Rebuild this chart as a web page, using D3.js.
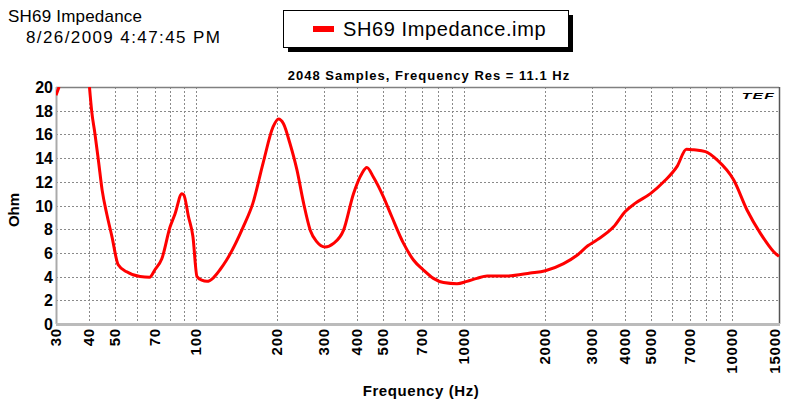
<!DOCTYPE html>
<html>
<head>
<meta charset="utf-8">
<script src="https://cdn.jsdelivr.net/npm/d3@7"></script>
<style>
  body { margin: 0; background: #fff; }
  svg { font-family: "Liberation Sans", Arial, sans-serif; display: block; }
</style>
</head>
<body>
<div id="chart"></div>
<script>
// impedance sweep (Hz, ohm); null = off the top of the chart
const freqs = [30, 30.8, null, 40, 40.8, 41.9, 43.2, 44.6, 46.5, 48.5, 51.2, 55.1, 61.8, 67, 70.3, 74.5, 80, 83.5, 88.5, 90, 93.7, 97.3, 100.8, 105, 109.9, 116, 123,
  130, 150, 163, 178, 194, 203, 212, 224, 238, 252, 267, 282, 303, 326, 355, 387, 416, 434, 459, 500, 538,
  595, 648, 706, 769, 839, 942, 1026, 1118, 1220, 1449, 1769, 2013, 2355, 2644, 2900,
  3139, 3620, 4002, 4366, 4967, 5569, 6248, 6770, 7211, 7974, 8811, 10165, 11406, 12783, 14329, 15000];
const ohms = [19.3, 20, null, 20, 17.9, 16.1, 13.8, 11.3, 9.2, 7.4, 5.0, 4.4, 4.0, 3.95, 4.6, 5.5, 8.2, 9.3, 11.0, 10.9, 9.05, 7.4, 4.0, 3.7, 3.6, 3.9, 4.6,
  5.4, 8.2, 10.2, 13.6, 16.65, 17.3, 16.9, 15.25, 13.0, 10.2, 7.9, 6.95, 6.5, 6.8, 7.9, 11.0, 12.7, 13.2, 12.4, 10.75, 9.05,
  6.8, 5.4, 4.55, 3.85, 3.5, 3.4, 3.6, 3.85, 4.05, 4.05, 4.3, 4.5, 5.1, 5.8, 6.6,
  7.1, 8.2, 9.5, 10.2, 11.0, 12.0, 13.3, 14.75, 14.7, 14.55, 13.85, 12.15, 9.6, 7.65, 6.1, 5.7];

const xTicks = [30, 40, 50, 70, 100, 200, 300, 400, 500, 700, 1000, 2000, 3000, 4000, 5000, 7000, 10000, 15000];
const xGrid = [40, 50, 60, 70, 80, 90, 100, 200, 300, 400, 500, 600, 700, 800, 900, 1000, 2000, 3000, 4000, 5000, 6000, 7000, 8000, 9000, 10000];
const yTicks = [0, 2, 4, 6, 8, 10, 12, 14, 16, 18, 20];

const W = 785, H = 402;
const margin = ({top: 87, right: 6, bottom: 78, left: 56});
const width = W - margin.left - margin.right;
const height = H - margin.top - margin.bottom;

const x = d3.scaleLog().domain([30, 15000]).range([0, width]);
const y = d3.scaleLinear().domain([0, 20]).range([height, 0]);

const svg = d3.select("#chart").append("svg")
  .attr("width", W)
  .attr("height", H);

// header text
svg.append("text").attr("x", 8).attr("y", 22)
  .style("font-size", "17px").attr("letter-spacing", "0.2px").text("SH69 Impedance");
svg.append("text").attr("x", 26).attr("y", 43)
  .style("font-size", "17px").attr("letter-spacing", "1.4px").text("8/26/2009 4:47:45 PM");

// legend box with drop shadow
svg.append("rect").attr("x", 288).attr("y", 15).attr("width", 285).attr("height", 37).attr("fill", "#000");
svg.append("rect").attr("x", 283.5).attr("y", 10.5).attr("width", 285).attr("height", 37)
  .attr("fill", "#fff").attr("stroke", "#000").attr("stroke-width", 1);
svg.append("line").attr("x1", 313).attr("x2", 334).attr("y1", 29).attr("y2", 29)
  .attr("stroke", "#f00").attr("stroke-width", 6);
svg.append("text").attr("x", 343).attr("y", 36)
  .style("font-size", "20px").attr("letter-spacing", "0.6px").text("SH69 Impedance.imp");

svg.append("text").attr("x", 429).attr("y", 80)
  .attr("text-anchor", "middle")
  .style("font-size", "13px").style("font-weight", "bold")
  .attr("letter-spacing", "1px")
  .text("2048 Samples, Frequency Res = 11.1 Hz");

const g = svg.append("g")
  .attr("transform", `translate(${margin.left}, ${margin.top})`);

// grid
g.selectAll(".hgrid")
  .data(yTicks.filter(d => d > 0 && d < 20))
  .join("line")
  .attr("class", "hgrid")
  .attr("x1", 0).attr("x2", width)
  .attr("y1", d => Math.round(y(d)) + 0.5).attr("y2", d => Math.round(y(d)) + 0.5)
  .attr("stroke", "#8a8a8a").attr("stroke-dasharray", "2,2");

g.selectAll(".vgrid")
  .data(xGrid)
  .join("line")
  .attr("class", "vgrid")
  .attr("x1", d => Math.round(x(d)) + 0.5).attr("x2", d => Math.round(x(d)) + 0.5)
  .attr("y1", 0).attr("y2", height)
  .attr("stroke", "#8a8a8a").attr("stroke-dasharray", "2,2");

// frame
g.append("line").attr("x1", 0).attr("x2", width).attr("y1", 0.5).attr("y2", 0.5)
  .attr("stroke", "#808080").attr("stroke-width", 1.5);
g.append("line").attr("x1", width + 0.5).attr("x2", width + 0.5).attr("y1", 0).attr("y2", height)
  .attr("stroke", "#555").attr("stroke-width", 1.5);
g.append("line").attr("x1", 0.5).attr("x2", 0.5).attr("y1", 0).attr("y2", height)
  .attr("stroke", "#aaa").attr("stroke-width", 2);
g.append("line").attr("x1", 0).attr("x2", width + 1).attr("y1", height + 0.5).attr("y2", height + 0.5)
  .attr("stroke", "#bbb").attr("stroke-width", 3);

// TEF logo
g.append("text").attr("x", width - 4).attr("y", 12)
  .attr("text-anchor", "end")
  .style("font-size", "12px").style("font-weight", "bold").style("font-style", "italic")
  .attr("letter-spacing", "1px")
  .attr("transform", `translate(${width - 4},12) scale(1.3,0.8) translate(${-(width - 4)},-12)`)
  .text("TEF");

// axes labels
g.selectAll(".ylab")
  .data(yTicks)
  .join("text")
  .attr("class", "ylab")
  .attr("x", -3)
  .attr("y", d => y(d) + 6)
  .attr("text-anchor", "end")
  .style("font-size", "16px").style("font-weight", "bold")
  .text(d => d);

// last label kept inside the window edge
g.selectAll(".xlab")
  .data(xTicks)
  .join("text")
  .attr("class", "xlab")
  .attr("transform", d => `translate(${Math.min(x(d) + 5, width + 1)}, ${height + 4}) rotate(-90)`)
  .attr("text-anchor", "end")
  .style("font-size", "15px").style("font-weight", "bold")
  .attr("letter-spacing", "0.8px")
  .text(d => d);

svg.append("text")
  .attr("transform", "translate(19, 210) rotate(-90)")
  .attr("text-anchor", "middle")
  .style("font-size", "15px").style("font-weight", "bold")
  .text("Ohm");

svg.append("text").attr("x", 421).attr("y", 396)
  .attr("text-anchor", "middle")
  .style("font-size", "15px").style("font-weight", "bold")
  .attr("letter-spacing", "0.6px")
  .text("Frequency (Hz)");

// curve
g.append("clipPath").attr("id", "plotclip")
  .append("rect").attr("x", 0).attr("y", 0).attr("width", width + 1).attr("height", height);

const data = freqs.map((f, i) => [f, ohms[i]]);
const line = d3.line()
  .defined(d => d[0] != null && d[1] != null)
  .x(d => x(d[0]))
  .y(d => y(d[1]))
  .curve(d3.curveMonotoneX);

g.append("path")
  .datum(data)
  .attr("clip-path", "url(#plotclip)")
  .attr("fill", "none")
  .attr("stroke", "#f00")
  .attr("stroke-width", 3)
  .attr("stroke-linejoin", "round")
  .attr("d", line);
</script>
</body>
</html>
